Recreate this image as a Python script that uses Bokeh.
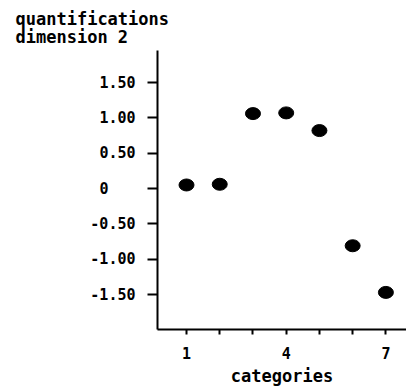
from bokeh.plotting import figure
from bokeh.models import FixedTicker, Range1d, Title
from bokeh.embed import file_html
from bokeh.resources import INLINE

# ---- data ----
categories = [1, 2, 3, 4, 5, 6, 7]
quantifications = [0.05, 0.06, 1.06, 1.07, 0.82, -0.81, -1.47]
x_ticks = [1, 2, 3, 4, 5, 6, 7]
x_tick_labels = ["1", "", "", "4", "", "", "7"]
y_ticks = [-1.5, -1.0, -0.5, 0, 0.5, 1.0, 1.5]
y_tick_labels = ["-1.50", "-1.00", "-0.50", "0\u00a0\u00a0\u00a0", "0.50", "1.00", "1.50"]
title_lines = ["quantifications", "dimension 2"]
x_label = "categories"

FONT = "DejaVu Sans Mono"

p = figure(width=406, height=389, output_backend="svg", toolbar_location=None,
           x_range=Range1d(0.127, 7.62), y_range=Range1d(-1.995, 1.953),
           min_border_left=157, min_border_right=0, min_border_top=50,
           min_border_bottom=60)
p.outline_line_color = None
p.grid.visible = False
p.background_fill_color = "white"
p.border_fill_color = "white"

p.ellipse(x=categories, y=quantifications, width=15, height=12,
          width_units="screen", height_units="screen",
          fill_color="black", line_color="black")

p.add_layout(Title(text="\n".join(title_lines), text_font=FONT,
                   text_font_size="17px", text_font_style="bold",
                   text_color="black", text_line_height=0.9,
                   align="left", offset=-142, standoff=8), "above")

xa = p.xaxis[0]
xa.ticker = FixedTicker(ticks=x_ticks)
xa.major_label_overrides = dict(zip(x_ticks, x_tick_labels))
xa.axis_label = x_label
ya = p.yaxis[0]
ya.ticker = FixedTicker(ticks=y_ticks)
ya.major_label_overrides = dict(zip(y_ticks, y_tick_labels))

for ax in (xa, ya):
    ax.axis_line_width = 2
    ax.axis_line_color = "black"
    ax.major_tick_line_width = 2
    ax.major_tick_line_color = "black"
    ax.major_tick_in = 0
    ax.minor_tick_line_color = None
    ax.major_label_text_font = FONT
    ax.major_label_text_font_size = "15px"
    ax.major_label_text_font_style = "bold"
    ax.major_label_text_color = "black"
    ax.axis_label_text_font = FONT
    ax.axis_label_text_font_size = "17px"
    ax.axis_label_text_font_style = "bold"
    ax.axis_label_text_color = "black"

xa.major_tick_out = 5
xa.major_label_standoff = 12
xa.axis_label_standoff = 4
ya.major_tick_out = 10
ya.major_label_standoff = 12

open("out.html", "w").write(file_html(p, INLINE))
